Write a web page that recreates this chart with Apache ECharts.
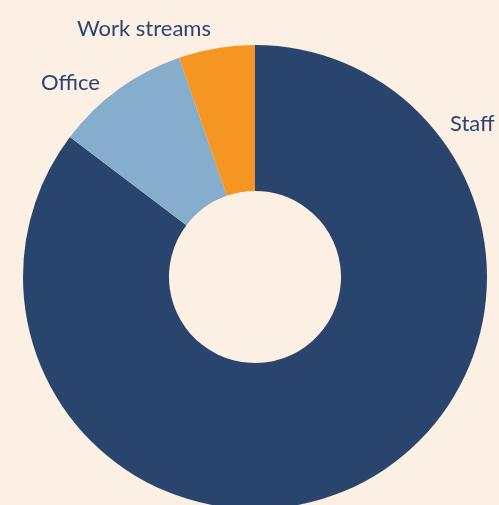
<!DOCTYPE html>
<html><head><meta charset="utf-8">
<script src="https://cdn.jsdelivr.net/npm/echarts@6/dist/echarts.min.js"></script>
<style>html,body{margin:0;padding:0;background:#FCEFE4;}#c{width:499px;height:505px;}</style>
</head><body><div id="c"></div>
<script>
const categories = ['Staff', 'Office', 'Work streams'];
const values = [85.3, 9.4, 5.3];
const colors = ['#29456E', '#87ADCD', '#F49621'];
// label anchor positions (left edge, vertical middle)
const labelX = [450, 41, 77];
const labelY = [124, 83, 29];

const chart = echarts.init(document.getElementById('c'), null, {renderer: 'canvas'});
chart.setOption({
  backgroundColor: '#FCEFE4',
  animation: false,
  series: [{
    type: 'pie',
    center: [255, 277],
    radius: [86, 232],
    startAngle: 90,
    clockwise: true,
    avoidLabelOverlap: false,
    data: categories.map((c, i) => ({name: c, value: values[i], itemStyle: {color: colors[i]}})),
    itemStyle: {borderWidth: 0},
    label: {
      show: true, position: 'outside', formatter: '{b}',
      color: '#2B4570', fontSize: 22, fontFamily: 'Lato'
    },
    labelLine: {show: false},
    labelLayout: (p) => ({x: labelX[p.dataIndex], y: labelY[p.dataIndex], align: 'left', verticalAlign: 'middle'}),
    emphasis: {disabled: true}
  }]
});
</script></body></html>
